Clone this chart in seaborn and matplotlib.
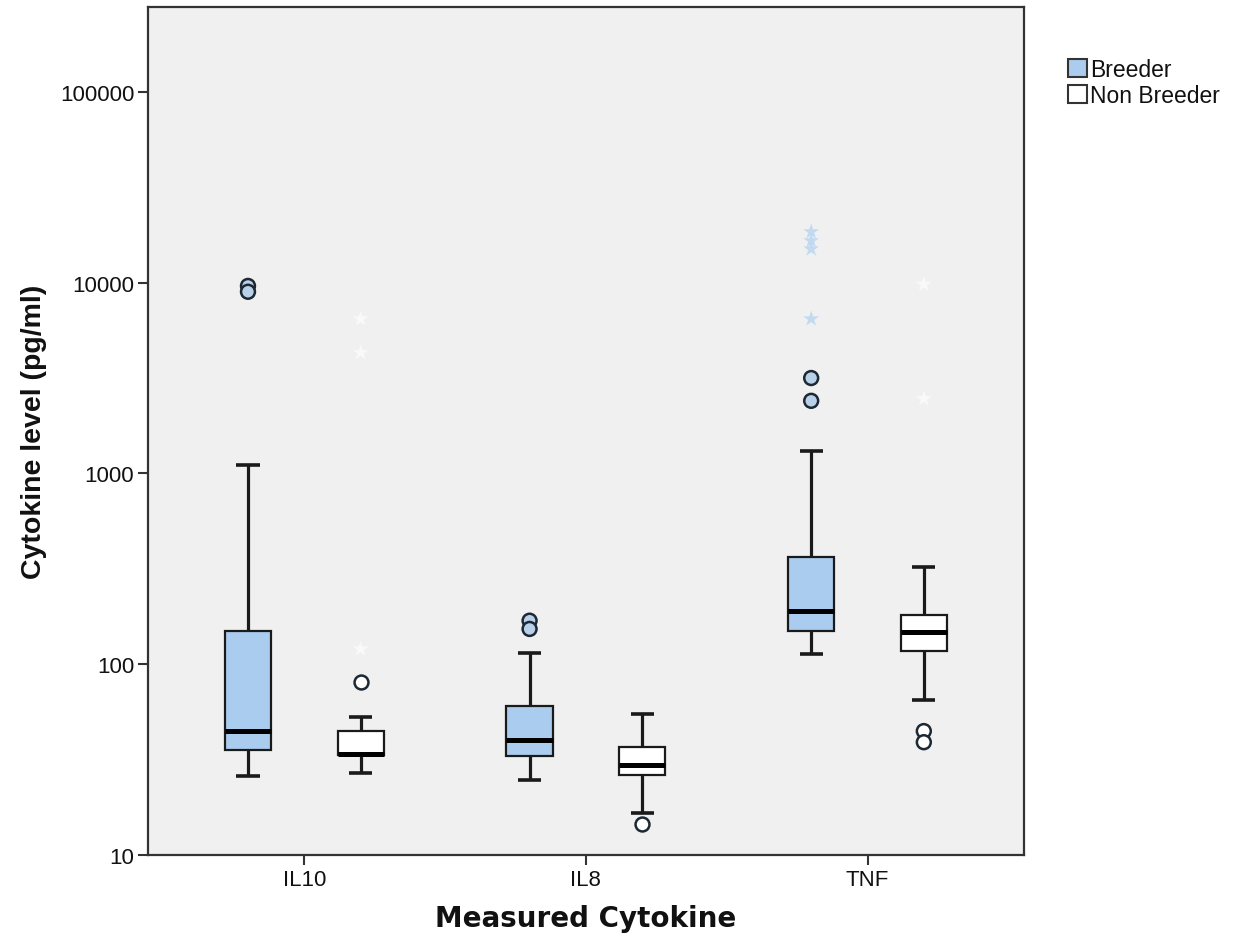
import numpy as np
import pandas as pd
import matplotlib.pyplot as plt
import seaborn as sns
from matplotlib.patches import Patch
from matplotlib.ticker import NullLocator

cytokines = ["IL10", "IL8", "TNF"]
groups = ["Breeder", "Non Breeder"]

# five number summaries, one value per cytokine
# (lower whisker, Q1, median, Q3, upper whisker)
breeder_low = [26, 24.7, 113]
breeder_q1 = [35.5, 33, 149]
breeder_med = [44.6, 40, 190]
breeder_q3 = [150, 60.4, 365]
breeder_high = [1110, 114.5, 1312]

nonbreeder_low = [27, 16.6, 65]
nonbreeder_q1 = [33.5, 26.2, 117]
nonbreeder_med = [34, 29.7, 147]
nonbreeder_q3 = [44.6, 36.8, 181]
nonbreeder_high = [53, 54.8, 324]

# outliers (circles) and extremes (stars)
breeder_outliers = {"IL10": [9600, 8950], "IL8": [169, 153], "TNF": [3160, 2400]}
nonbreeder_outliers = {"IL10": [80.7], "IL8": [14.5], "TNF": [44.6, 39]}
breeder_extremes = {"TNF": [18450, 16560, 15000, 6450]}
nonbreeder_extremes = {"IL10": [6450, 4290, 120], "TNF": [9800, 2460]}

box_colors = {"Breeder": "#aacdef", "Non Breeder": "#ffffff"}
circle_colors = {"Breeder": "#b9d1e8", "Non Breeder": "#ffffff"}
star_colors = {"Breeder": "#bcd6f0", "Non Breeder": "#fbfbfb"}


def summary_table():
    rows = []
    sets = {
        "Breeder": [breeder_low, breeder_q1, breeder_med, breeder_q3, breeder_high],
        "Non Breeder": [nonbreeder_low, nonbreeder_q1, nonbreeder_med, nonbreeder_q3, nonbreeder_high],
    }
    for grp, cols in sets.items():
        for i, cyt in enumerate(cytokines):
            for col in cols:
                rows.append({"cytokine": cyt, "group": grp, "value": col[i]})
    return pd.DataFrame(rows)


def point_table(breeder, nonbreeder):
    rows = []
    for grp, d in (("Breeder", breeder), ("Non Breeder", nonbreeder)):
        for cyt, vals in d.items():
            for v in vals:
                rows.append({"cytokine": cyt, "group": grp, "value": v})
    return pd.DataFrame(rows)


box_df = summary_table()
out_df = point_table(breeder_outliers, nonbreeder_outliers)
ext_df = point_table(breeder_extremes, nonbreeder_extremes)

sns.set_style("ticks")
plt.rcParams["font.family"] = ["Liberation Sans", "DejaVu Sans"]

fig, ax = plt.subplots(figsize=(12.47, 9.45), dpi=100)
fig.subplots_adjust(left=0.1187, right=0.821, bottom=0.0942, top=0.9915)
ax.set_facecolor("#f0f0f0")

sns.boxplot(data=box_df, x="cytokine", y="value", hue="group",
            order=cytokines, hue_order=groups, palette=box_colors,
            saturation=1, whis=(0, 100), log_scale=True, width=0.8, gap=0.59,
            showfliers=False, linecolor="#1a1a1a", linewidth=1.6,
            medianprops=dict(linewidth=3.6, color="black", solid_capstyle="butt"),
            whiskerprops=dict(linewidth=2.3, solid_capstyle="butt"),
            capprops=dict(linewidth=2.6, solid_capstyle="butt"),
            legend=False, ax=ax)

sns.stripplot(data=ext_df, x="cytokine", y="value", hue="group",
              order=cytokines, hue_order=groups, palette=star_colors,
              dodge=True, jitter=False, size=12, marker="*", linewidth=0,
              alpha=0.85, legend=False, ax=ax, zorder=3)

sns.stripplot(data=out_df, x="cytokine", y="value", hue="group",
              order=cytokines, hue_order=groups, palette=circle_colors,
              dodge=True, jitter=False, size=10, linewidth=1.8,
              edgecolor="#1c2833", legend=False, ax=ax, zorder=4)

ax.set_ylim(10, 278000)
ax.set_xlim(-0.555, 2.555)
ax.set_yticks([10, 100, 1000, 10000, 100000])
ax.set_yticklabels(["10", "100", "1000", "10000", "100000"])
ax.yaxis.set_minor_locator(NullLocator())

for sp in ax.spines.values():
    sp.set_visible(True)
    sp.set_color("#333333")
    sp.set_linewidth(1.6)

ax.tick_params(axis="both", length=7, width=1.5, color="#333333",
               labelsize=16, pad=3, labelcolor="#111111")

ax.set_xlabel("Measured Cytokine", fontsize=20, fontweight="bold",
              family="DejaVu Sans", labelpad=10, color="#111111")
ax.set_ylabel("Cytokine level (pg/ml)", fontsize=20.5, fontweight="bold",
              labelpad=9, color="#111111")

handles = [Patch(facecolor=box_colors[g], edgecolor="#333333", linewidth=1.5) for g in groups]
fig.legend(handles, groups, loc="upper left", bbox_to_anchor=(0.855, 0.94),
           frameon=False, fontsize=16.5, handlelength=0.8, handleheight=0.8,
           handletextpad=0.15, labelspacing=0.12, borderaxespad=0,
           borderpad=0.1, labelcolor="#111111")

fig.savefig("out.png", dpi=100)
